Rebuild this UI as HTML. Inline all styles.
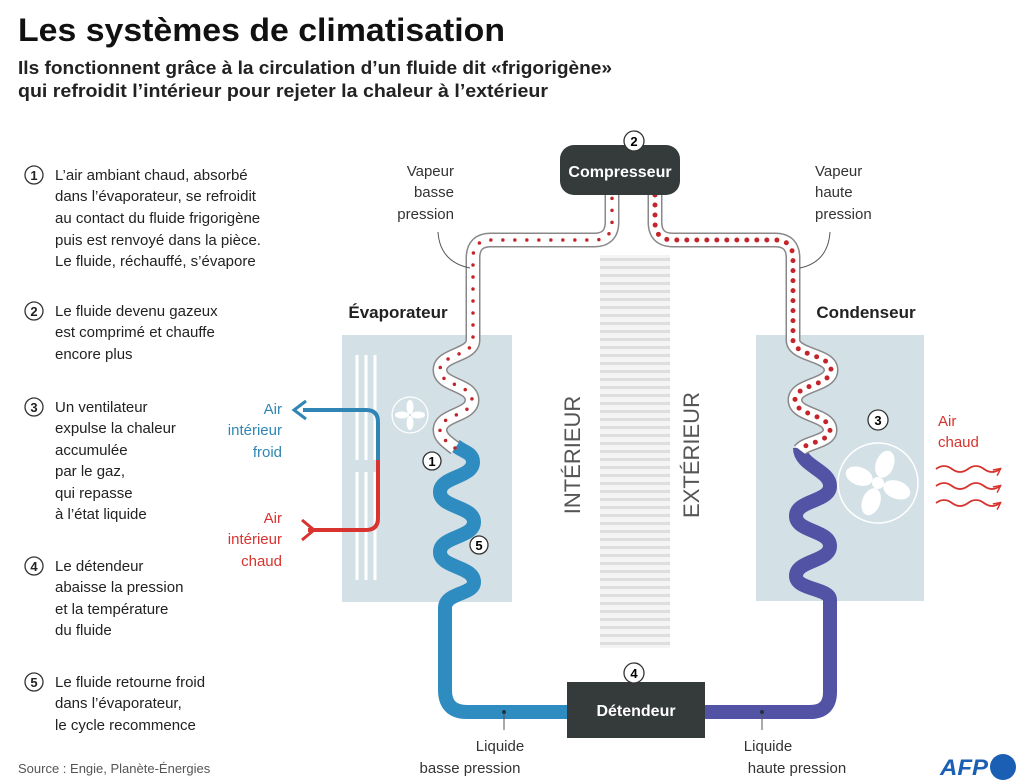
<!DOCTYPE html>
<html><head><meta charset="utf-8"><style>
html,body{margin:0;padding:0;background:#fff;}
svg{display:block;font-family:"Liberation Sans",sans-serif;}
</style></head><body>
<svg width="1024" height="782" viewBox="0 0 1024 782" xmlns="http://www.w3.org/2000/svg">
<defs>
<pattern id="wall" width="70" height="8" patternUnits="userSpaceOnUse">
<rect width="70" height="8" fill="#f4f4f4"/>
<rect y="2" width="70" height="3" fill="#dedede"/>
</pattern>
<marker id="ar" viewBox="0 0 10 10" refX="8" refY="5" markerWidth="5" markerHeight="5" orient="auto"><path d="M1,1 L9,5 L1,9" fill="none" stroke="#d8332e" stroke-width="1.6"/></marker>
</defs>

<text x="18" y="41" font-size="32" font-weight="bold" fill="#111" textLength="487" lengthAdjust="spacingAndGlyphs">Les systèmes de climatisation</text>
<text x="18" y="74" font-size="18" font-weight="bold" fill="#222" textLength="594" lengthAdjust="spacingAndGlyphs">Ils fonctionnent grâce à la circulation d’un fluide dit «frigorigène»</text>
<text x="18" y="97" font-size="18" font-weight="bold" fill="#222" textLength="530" lengthAdjust="spacingAndGlyphs">qui refroidit l’intérieur pour rejeter la chaleur à l’extérieur</text>

<g font-size="15" fill="#222">
<g fill="none" stroke="#333" stroke-width="1.3">
<circle cx="34" cy="175" r="9"/><circle cx="34" cy="311" r="9"/><circle cx="34" cy="407" r="9"/><circle cx="34" cy="566" r="9"/><circle cx="34" cy="682" r="9"/>
</g>
<g font-weight="bold" font-size="13" text-anchor="middle">
<text x="34" y="180">1</text><text x="34" y="316">2</text><text x="34" y="412">3</text><text x="34" y="571">4</text><text x="34" y="687">5</text>
</g>
<text x="55" y="180">L’air ambiant chaud, absorbé</text>
<text x="55" y="201">dans l’évaporateur, se refroidit</text>
<text x="55" y="223">au contact du fluide frigorigène</text>
<text x="55" y="245">puis est renvoyé dans la pièce.</text>
<text x="55" y="266">Le fluide, réchauffé, s’évapore</text>
<text x="55" y="316">Le fluide devenu gazeux</text>
<text x="55" y="337">est comprimé et chauffe</text>
<text x="55" y="359">encore plus</text>
<text x="55" y="412">Un ventilateur</text>
<text x="55" y="433">expulse la chaleur</text>
<text x="55" y="455">accumulée</text>
<text x="55" y="476">par le gaz,</text>
<text x="55" y="498">qui repasse</text>
<text x="55" y="519">à l’état liquide</text>
<text x="55" y="571">Le détendeur</text>
<text x="55" y="592">abaisse la pression</text>
<text x="55" y="614">et la température</text>
<text x="55" y="635">du fluide</text>
<text x="55" y="687">Le fluide retourne froid</text>
<text x="55" y="708">dans l’évaporateur,</text>
<text x="55" y="730">le cycle recommence</text>
</g>
<text x="18" y="773" font-size="13" fill="#555">Source : Engie, Planète-Énergies</text>

<rect x="600" y="255" width="70" height="393" fill="url(#wall)"/>
<text transform="translate(580,455) rotate(-90)" font-size="22" fill="#555" text-anchor="middle">INTÉRIEUR</text>
<text transform="translate(699,455) rotate(-90)" font-size="22" fill="#555" text-anchor="middle">EXTÉRIEUR</text>

<rect x="342" y="335" width="170" height="267" fill="#d3e0e6"/>
<rect x="756" y="335" width="168" height="266" fill="#d3e0e6"/>
<text x="398" y="318" font-size="17" font-weight="bold" fill="#222" text-anchor="middle">Évaporateur</text>
<text x="866" y="318" font-size="17" font-weight="bold" fill="#222" text-anchor="middle">Condenseur</text>

<g stroke="#fff" stroke-width="3">
<line x1="357" y1="355" x2="357" y2="460"/><line x1="366" y1="355" x2="366" y2="460"/><line x1="375" y1="355" x2="375" y2="460"/>
<line x1="357" y1="472" x2="357" y2="580"/><line x1="366" y1="472" x2="366" y2="580"/><line x1="375" y1="472" x2="375" y2="580"/>
</g>
<circle cx="410" cy="415" r="18" fill="none" stroke="#fff" stroke-width="1.2"/>
<g fill="#fff" transform="translate(410,415)">
<ellipse cx="0" cy="-8" rx="3.5" ry="7"/><ellipse cx="8" cy="0" rx="7" ry="3.5"/><ellipse cx="0" cy="8" rx="3.5" ry="7"/><ellipse cx="-8" cy="0" rx="7" ry="3.5"/>
</g>
<circle cx="878" cy="483" r="40" fill="none" stroke="#fff" stroke-width="1.5"/>
<g fill="#fff" transform="translate(878,483) rotate(20)">
<circle r="6"/><ellipse cx="0" cy="-20" rx="9" ry="14"/><ellipse cx="20" cy="0" rx="14" ry="9"/><ellipse cx="0" cy="20" rx="9" ry="14"/><ellipse cx="-20" cy="0" rx="14" ry="9"/>
</g>

<path d="M303,410 L366,410 Q378,410 378,422 L378,460" fill="none" stroke="#2f86b4" stroke-width="4"/>
<path d="M378,460 L378,518 Q378,530 366,530 L308,530" fill="none" stroke="#d8332e" stroke-width="4"/>
<path d="M306,401 L294,410 L306,419" fill="none" stroke="#2f86b4" stroke-width="3"/>
<path d="M302,520 L314,530 L302,540" fill="none" stroke="#d8332e" stroke-width="3"/>
<g font-size="15" text-anchor="end">
<text x="282" y="414" fill="#2f86b4">Air</text><text x="282" y="435" fill="#2f86b4">intérieur</text><text x="282" y="457" fill="#2f86b4">froid</text>
<text x="282" y="523" fill="#d8332e">Air</text><text x="282" y="544" fill="#d8332e">intérieur</text><text x="282" y="566" fill="#d8332e">chaud</text>
</g>

<path d="M455,445 C462,452 473,452 473,462 C473,478 440,476 440,492 C440,508 474,506 474,522 C474,538 440,536 440,552 C440,568 474,566 474,582 C474,595 445,592 445,608 L445,690 Q445,712 467,712 L567,712" fill="none" stroke="#2f8cc0" stroke-width="14"/>
<path d="M705,712 L810,712 Q830,712 830,692 L830,600 C830,588 796,590 796,576 C796,560 830,562 830,546 C830,530 796,532 796,516 C796,500 830,502 830,486 C830,470 800,466 800,448" fill="none" stroke="#5253a4" stroke-width="14"/>
<line x1="504" y1="712" x2="504" y2="730" stroke="#555" stroke-width="1"/>
<circle cx="504" cy="712" r="2" fill="#234"/>
<line x1="762" y1="712" x2="762" y2="730" stroke="#555" stroke-width="1"/>
<circle cx="762" cy="712" r="2" fill="#234"/>

<g fill="none" stroke-linecap="butt">
<path d="M455,448 C444,440 440,436 440,430 C440,414 472,416 472,400 C472,384 440,386 440,370 C440,354 473,356 473,340 L473,258 Q473,240 491,240 L594,240 Q612,240 612,222 L612,195" stroke="#888" stroke-width="15"/>
<path d="M455,448 C444,440 440,436 440,430 C440,414 472,416 472,400 C472,384 440,386 440,370 C440,354 473,356 473,340 L473,258 Q473,240 491,240 L594,240 Q612,240 612,222 L612,195" stroke="#fff" stroke-width="12"/>
<path d="M455,448 C444,440 440,436 440,430 C440,414 472,416 472,400 C472,384 440,386 440,370 C440,354 473,356 473,340 L473,258 Q473,240 491,240 L594,240 Q612,240 612,222 L612,195" stroke="#c4252b" stroke-width="3.5" stroke-linecap="round" stroke-dasharray="0 12"/>
<path d="M655,195 L655,222 Q655,240 673,240 L775,240 Q793,240 793,258 L793,340 C793,356 831,354 831,370 C831,386 795,384 795,400 C795,416 830,414 830,430 C830,442 806,442 800,450" stroke="#888" stroke-width="15"/>
<path d="M655,195 L655,222 Q655,240 673,240 L775,240 Q793,240 793,258 L793,340 C793,356 831,354 831,370 C831,386 795,384 795,400 C795,416 830,414 830,430 C830,442 806,442 800,450" stroke="#fff" stroke-width="12"/>
<path d="M655,195 L655,222 Q655,240 673,240 L775,240 Q793,240 793,258 L793,340 C793,356 831,354 831,370 C831,386 795,384 795,400 C795,416 830,414 830,430 C830,442 806,442 800,450" stroke="#c4252b" stroke-width="5" stroke-linecap="round" stroke-dasharray="0 10"/>
</g>

<rect x="560" y="145" width="120" height="50" rx="14" fill="#353b3b"/>
<text x="620" y="177" font-size="16" font-weight="bold" fill="#fff" text-anchor="middle">Compresseur</text>
<circle cx="634" cy="141" r="10" fill="#fff" stroke="#333" stroke-width="1.3"/>
<text x="634" y="146" font-size="13" font-weight="bold" text-anchor="middle">2</text>

<rect x="567" y="682" width="138" height="56" fill="#353b3b"/>
<text x="636" y="716" font-size="16" font-weight="bold" fill="#fff" text-anchor="middle">Détendeur</text>
<circle cx="634" cy="673" r="10" fill="#fff" stroke="#333" stroke-width="1.3"/>
<text x="634" y="678" font-size="13" font-weight="bold" text-anchor="middle">4</text>

<g fill="#fff" stroke="#333" stroke-width="1.3">
<circle cx="432" cy="461" r="9"/><circle cx="479" cy="545" r="9"/><circle cx="878" cy="420" r="10"/>
</g>
<g font-size="13" font-weight="bold" text-anchor="middle">
<text x="432" y="466">1</text><text x="479" y="550">5</text><text x="878" y="425">3</text>
</g>

<g font-size="15" fill="#333">
<text x="454" y="176" text-anchor="end">Vapeur</text><text x="454" y="197" text-anchor="end">basse</text><text x="454" y="219" text-anchor="end">pression</text>
<text x="815" y="176">Vapeur</text><text x="815" y="197">haute</text><text x="815" y="219">pression</text>
<text x="500" y="751" text-anchor="middle">Liquide</text><text x="470" y="773" text-anchor="middle">basse pression</text>
<text x="768" y="751" text-anchor="middle">Liquide</text><text x="797" y="773" text-anchor="middle">haute pression</text>
</g>
<path d="M438,232 Q440,262 470,268" fill="none" stroke="#555" stroke-width="1"/>
<path d="M830,232 Q828,262 800,268" fill="none" stroke="#555" stroke-width="1"/>

<text x="938" y="426" font-size="15" fill="#d8332e">Air</text>
<text x="938" y="447" font-size="15" fill="#d8332e">chaud</text>
<g fill="none" stroke="#d8332e" stroke-width="1.8" marker-end="url(#ar)">
<path d="M936,469 q8,-6 16,0 t16,0 t16,0 t16,0"/>
<path d="M936,486 q8,-6 16,0 t16,0 t16,0 t16,0"/>
<path d="M936,503 q8,-6 16,0 t16,0 t16,0 t16,0"/>
</g>

<text x="940" y="775" font-size="22" font-weight="bold" font-style="italic" fill="#1a5fb4" textLength="48" lengthAdjust="spacingAndGlyphs">AFP</text>
<circle cx="1003" cy="767" r="13" fill="#1a5fb4"/>
</svg>
</body></html>
